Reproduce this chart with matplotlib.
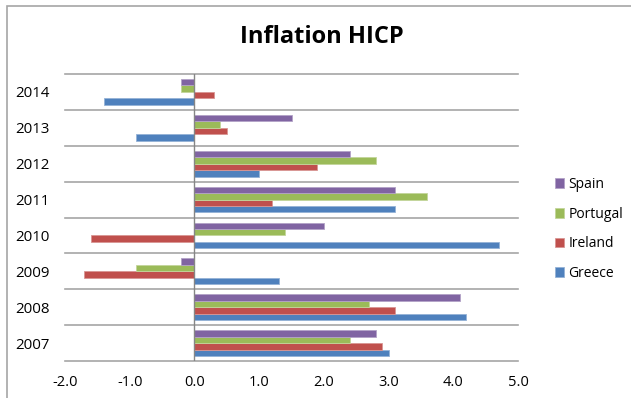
import matplotlib
matplotlib.use("Agg")
import matplotlib.pyplot as plt
import numpy as np
from matplotlib.patches import Rectangle

plt.rcParams['font.family'] = ['Open Sans', 'DejaVu Sans']
plt.rcParams['axes.unicode_minus'] = False

years = ['2007', '2008', '2009', '2010', '2011', '2012', '2013', '2014']
series_names = ['Greece', 'Ireland', 'Portugal', 'Spain']
greece = [3.0, 4.2, 1.3, 4.7, 3.1, 1.0, -0.9, -1.4]
ireland = [2.9, 3.1, -1.7, -1.6, 1.2, 1.9, 0.5, 0.3]
portugal = [2.4, 2.7, -0.9, 1.4, 3.6, 2.8, 0.4, -0.2]
spain = [2.8, 4.1, -0.2, 2.0, 3.1, 2.4, 1.5, -0.2]
xticks = [-2.0, -1.0, 0.0, 1.0, 2.0, 3.0, 4.0, 5.0]

colors = ['#4F81BD', '#C0504D', '#9BBB59', '#8064A2']
edges = ['#95B3D7', '#D99694', '#C3D69B', '#B3A2C7']
data = [greece, ireland, portugal, spain]

fig = plt.figure(figsize=(6.31, 3.98), dpi=100)
# outer chart border
fig.add_artist(Rectangle((7/631, -0.1), 1.2, (398-6)/398 + 0.1, transform=fig.transFigure,
                         fill=False, edgecolor='#A6A6A6', linewidth=1.2))

ax = fig.add_axes([65/631, (398-361)/398, (518-65)/631, (361-74)/398])
y = np.arange(len(years))
h = 0.18
for i, (vals, c, e) in enumerate(zip(data, colors, edges)):
    ax.barh(y + (i - 1.5) * h, vals, height=h, color=c, edgecolor=e,
            linewidth=0.6, label=series_names[i], zorder=3)

ax.set_xlim(-2.0, 5.0)
ax.set_ylim(-0.5, len(years) - 0.5)
ax.set_xticks(xticks)
ax.set_xticklabels([f"{v:.1f}" for v in xticks], fontsize=10.5)
ax.set_yticks(y)
ax.set_yticklabels(years, fontsize=10.8)
ax.tick_params(axis='both', length=0, colors='black')
ax.tick_params(axis='y', pad=11)
ax.tick_params(axis='x', pad=10)
for b in np.arange(-0.5, len(years), 1.0):
    ax.axhline(b, color='#A6A6A6', linewidth=1.2, zorder=1, clip_on=False)
ax.axvline(0, color='#868686', linewidth=1.0, zorder=4)
for s in ax.spines.values():
    s.set_visible(False)

fig.text(322/631, 1 - 37/398, 'Inflation HICP', ha='center', va='center',
         fontsize=17, fontweight='bold')

handles, labels = ax.get_legend_handles_labels()
leg = fig.legend(handles[::-1], labels[::-1], loc='center left',
                 bbox_to_anchor=(542/631, 1 - 229/398), frameon=False,
                 fontsize=10, handlelength=0.7, handleheight=0.7,
                 handletextpad=0.3, labelspacing=1.05)

fig.savefig('out.png', dpi=100)
